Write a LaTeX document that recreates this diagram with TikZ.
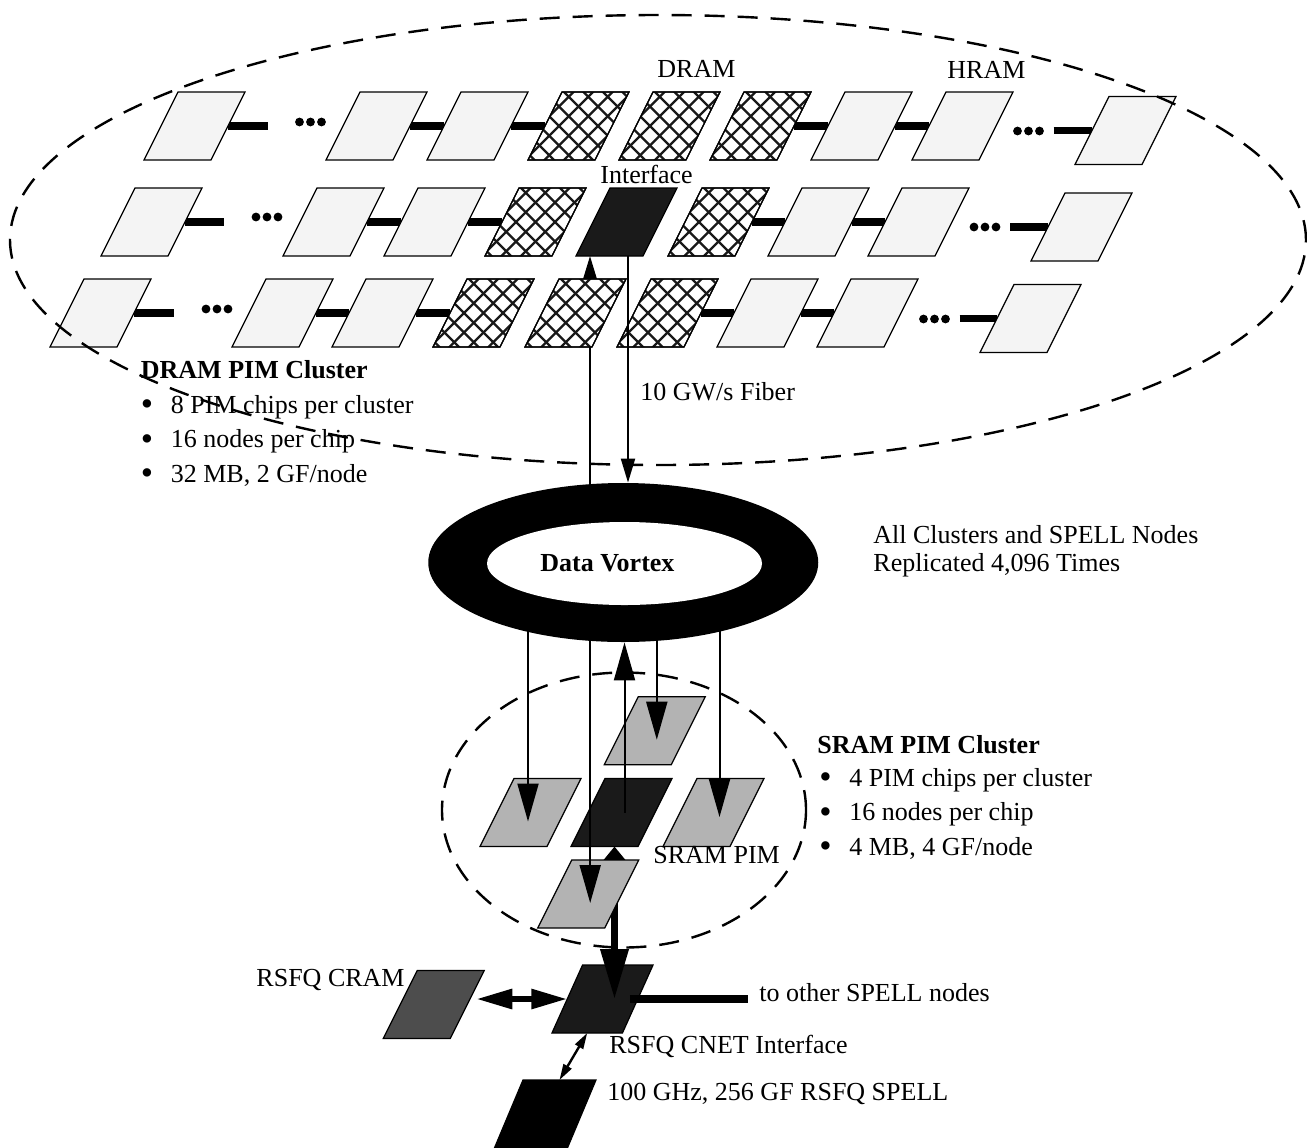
\documentclass[tikz,border=0pt]{standalone}
\usepackage{fontspec}
\setmainfont{Liberation Serif}
\usepackage{tikz}
\usetikzlibrary{arrows.meta,positioning,shapes.geometric}
\definecolor{chiplight}{HTML}{F4F4F4}
\definecolor{chipdark}{HTML}{1A1A1A}
\definecolor{sramgray}{HTML}{B3B3B3}
\definecolor{cramgray}{HTML}{4D4D4D}
\pgfdeclarelayer{bg}
\pgfdeclarelayer{fg}
\pgfsetlayers{bg,main,fg}
\newcommand{\pimitem}{\makebox[15pt][l]{\raisebox{-1.3pt}{\scalebox{1.35}{\textbullet}}}}

\begin{document}
\begin{tikzpicture}[
  x=0.5pt, y=-0.5pt,
  font=\fontsize{13}{15}\selectfont,
  chipbase/.style={draw, line width=0.6pt, fill=chiplight,
    minimum width=33.5pt, minimum height=34pt, inner sep=0pt, outer sep=0pt},
  chip/.style={chipbase, xslant=0.5},
  hatchchip/.style={chip, fill=white},
  hatchline/.style={line width=1.1pt, black!90},
  chipedge/.style={line width=0.6pt},
  chipdots/.style={inner sep=0pt, outer sep=0pt, minimum width=16pt, minimum height=5pt,
    path picture={\foreach \d in {-5.5,0,5.5}
      \fill ([xshift=\d pt]path picture bounding box.center) circle (2.2pt);}},
  linkbar/.style={line width=3.7pt},
  lbl/.style={inner sep=0pt, anchor=base west},
  fiber/.style={line width=1pt, -{Triangle[length=12pt,width=7pt]}},
  feedarrow/.style={line width=1pt, -{Triangle[length=19pt,width=10.5pt]}},
  fatarrow/.style={line width=3pt,
    {Triangle[length=18pt,width=9.5pt]}-{Triangle[length=18pt,width=9.5pt]}},
  fatup/.style={line width=3.5pt,
    {Triangle[length=25pt,width=13.5pt]}-{Triangle[length=8pt,width=12.5pt]}},
  thinarrow/.style={line width=1.2pt,
    {Triangle[length=8pt,width=4.5pt]}-{Triangle[length=8pt,width=4.5pt]}},
  cluster/.style={draw, ellipse, inner sep=0pt, line width=1.2pt, dash pattern=on 10pt off 6.5pt},
  vortexring/.style={ellipse, fill=black, inner sep=0pt, minimum width=195pt, minimum height=79.5pt},
  vortexcore/.style={ellipse, fill=white, inner sep=0pt, minimum width=137.5pt, minimum height=41.5pt},
]
\useasboundingbox (0,0) rectangle (1307,1147);

% DRAM PIM cluster, top row
\node[chip] (s1) at (194.5,126) {};
\node[chipdots] (d1a) at (310.5,122) {};
\node[chip] (s2) at (376.5,126) {};
\node[chip, right=17pt of s2] (s3) {};
\node[hatchchip, right=17pt of s3] (h4) {};
\node[hatchchip, right=12pt of h4] (h5) {};
\node[hatchchip, right=12pt of h5] (h6) {};
\node[chip, right=17pt of h6] (s7) {};
\node[chip, right=17pt of s7] (s8) {};
\node[chipdots] (d1b) at (1028.5,131) {};
\node[chip] (s9) at (1125.5,130.5) {};

% middle row
\node[chip] (m1) at (151.5,222) {};
\node[chipdots] (d2a) at (267,217) {};
\node[chip] (m2) at (333.5,222) {};
\node[chip, right=17pt of m2] (m3) {};
\node[hatchchip, right=17pt of m3] (m4) {};
\node[chip, fill=chipdark, right=12pt of m4] (ifc) {};
\node[hatchchip, right=12.5pt of ifc] (m6) {};
\node[chip, right=16.5pt of m6] (m7) {};
\node[chip, right=16.5pt of m7] (m8) {};
\node[chipdots] (d2b) at (985,227) {};
\node[chip] (m9) at (1081.5,227) {};

% bottom row
\node[chip] (b1) at (100.5,313) {};
\node[chipdots] (d3a) at (217,309) {};
\node[chip] (b2) at (282.5,313) {};
\node[chip, right=16.5pt of b2] (b3) {};
\node[hatchchip, right=17pt of b3] (b4) {};
\node[hatchchip, right=12.5pt of b4] (b5) {};
\node[hatchchip, right=12.5pt of b5] (b6) {};
\node[chip, right=16.5pt of b6] (b7) {};
\node[chip, right=16.5pt of b7] (b8) {};
\node[chipdots] (d3b) at (934.5,319) {};
\node[chip] (b9) at (1030.5,318.5) {};

% DRAM chips get a cross hatch
\foreach \c in {h4,h5,h6,m4,m6,b4,b5,b6}{
  \begin{scope}
    \clip (\c.north west) -- (\c.north east) -- (\c.south east) -- (\c.south west) -- cycle;
    \foreach \k in {-8,...,8}{
      \draw[hatchline] ([xshift=\k*9.75pt-20pt, yshift=-20pt]\c.center) -- ++(40pt,40pt);
      \draw[hatchline] ([xshift=\k*9.75pt+20pt, yshift=-20pt]\c.center) -- ++(-40pt,40pt);
    }
  \end{scope}
  \draw[chipedge] (\c.north west) -- (\c.north east) -- (\c.south east) -- (\c.south west) -- cycle;
}

\node[lbl] (dramlbl) at (657,77) {DRAM};
\node[lbl] (hramlbl) at (947,78) {HRAM};
\node[lbl] (ifclbl) at (600,183) {Interface};
\node[lbl] (fiberlbl) at (640,400) {10 GW/s Fiber};
\node[lbl] (dramhd) at (140.5,378) {\textbf{DRAM PIM Cluster}};
\node[lbl] (dramit1) at (140.5,413) {\pimitem 8 PIM chips per cluster};
\node[lbl] (dramit2) at (140.5,447.5) {\pimitem 16 nodes per chip};
\node[lbl] (dramit3) at (140.5,482) {\pimitem 32 MB, 2 GF/node};

% data vortex
\begin{pgfonlayer}{fg}
\node[vortexring] (vortex) at (623.25,562.5) {};
\node[vortexcore] (vcore) at (624.5,563.5) {};
\node[lbl] (vlbl) at (540,571) {\textbf{Data Vortex}};
\end{pgfonlayer}
\node[lbl] (repl1) at (873,543) {All Clusters and SPELL Nodes};
\node[lbl] (repl2) at (873,571) {Replicated 4,096 Times};

\coordinate (fibin) at ([xshift=-18.25pt, yshift=-17pt]ifc.center);
\coordinate (fibout) at ([xshift=0.75pt, yshift=-17pt]ifc.center);

\begin{pgfonlayer}{bg}
\draw[linkbar, shorten >=13.5pt] (s1.east) -- (s1.east -| d1a.west);
\draw[linkbar] (s2.east) -- (s3.west);
\draw[linkbar] (s3.east) -- (h4.west);
\draw[linkbar] (h6.east) -- (s7.west);
\draw[linkbar] (s7.east) -- (s8.west);
\draw[linkbar, shorten <=4.5pt] (s9.west -| d1b.east) -- (s9.west);
\draw[linkbar, shorten >=13.5pt] (m1.east) -- (m1.east -| d2a.west);
\draw[linkbar] (m2.east) -- (m3.west);
\draw[linkbar] (m3.east) -- (m4.west);
\draw[linkbar] (m6.east) -- (m7.west);
\draw[linkbar] (m7.east) -- (m8.west);
\draw[linkbar, shorten <=4.5pt] (m9.west -| d2b.east) -- (m9.west);
\draw[linkbar, shorten >=13.5pt] (b1.east) -- (b1.east -| d3a.west);
\draw[linkbar] (b2.east) -- (b3.west);
\draw[linkbar] (b3.east) -- (b4.west);
\draw[linkbar] (b6.east) -- (b7.west);
\draw[linkbar] (b7.east) -- (b8.west);
\draw[linkbar, shorten <=4.5pt] (b9.west -| d3b.east) -- (b9.west);
\draw[fiber] (fibin |- vortex.center) -- (fibin);
\end{pgfonlayer}
\draw[fiber] (fibout) -- (fibout |- vortex.north);

% SRAM PIM cluster
\node[chip, fill=sramgray] (sramT) at (654.8,730.7) {};
\node[chip, fill=sramgray] (sramL) at (530.5,812.5) {};
\node[chip, fill=chipdark, right=12pt of sramL] (sramC) {};
\node[chip, fill=sramgray, right=12.5pt of sramC] (sramR) {};
\node[lbl] (srampim) at (653,863) {SRAM PIM};
\node[lbl] (sramhd) at (817,753) {\textbf{SRAM PIM Cluster}};
\node[lbl] (sramit1) at (819,786) {\pimitem 4 PIM chips per cluster};
\node[lbl] (sramit2) at (819,820.5) {\pimitem 16 nodes per chip};
\node[lbl] (sramit3) at (819,855) {\pimitem 4 MB, 4 GF/node};

% RSFQ side
\node[chipbase, xslant=0.45, fill=chipdark, minimum width=35.25pt] (cnet) at (602.5,999) {};
\node[chip, fill=cramgray] (cram) at (433.75,1004.5) {};
\node[chipbase, xslant=0.42, fill=black, minimum width=36.5pt] (spell) at (545.2,1114) {};
\node[lbl, anchor=base east] (cramlbl) at (405,986) {RSFQ CRAM};
\node[lbl] (otherlbl) at (759,1001) {to other SPELL nodes};
\node[lbl] (cnetlbl) at (609,1053) {RSFQ CNET Interface};
\node[lbl] (spelllbl) at (607,1100) {100 GHz, 256 GF RSFQ SPELL};

\coordinate (cnettop) at ([xshift=6pt]cnet.center);
\draw[fatup] (cnettop) -- (cnettop |- sramC.south);
\node[chip, fill=sramgray] (sramB) at (588.2,894) {};

\coordinate (feedL) at ([xshift=-1.25pt, yshift=-4.5pt]sramL.center);
\coordinate (feedR) at ([xshift=3pt, yshift=-2.25pt]sramR.center);
\coordinate (feedT) at ([xshift=1pt, yshift=-4.5pt]sramT.center);
\coordinate (feedB) at ([xshift=1pt, yshift=-4.5pt]sramB.center);
\coordinate (feedC) at ([xshift=1.5pt]sramC.center);
\draw[feedarrow] (feedL |- vortex.center) -- (feedL);
\draw[feedarrow] (feedR |- vortex.center) -- (feedR);
\draw[feedarrow] (feedT |- vortex.center) -- (feedT);
\draw[feedarrow] (feedB |- vortex.center) -- (feedB);
\draw[feedarrow] (feedC) -- (feedC |- vortex.south);

\draw[fatarrow, shorten <=4.5pt] (cram.east |- cnet.west) -- (cnet.west);
\draw[thinarrow] (cnet.south) -- (spell.north);
\draw[linkbar, shorten >=5.5pt] ([xshift=-4pt]cnet.east) -- (cnet.east -| otherlbl.west);

% cluster outlines
\node[cluster, minimum width=648pt, minimum height=225pt] (dramclu) at (658,240) {};
\node[cluster, minimum width=182pt, minimum height=137.5pt] (sramclu) at (624,810) {};
\end{tikzpicture}
\end{document}
